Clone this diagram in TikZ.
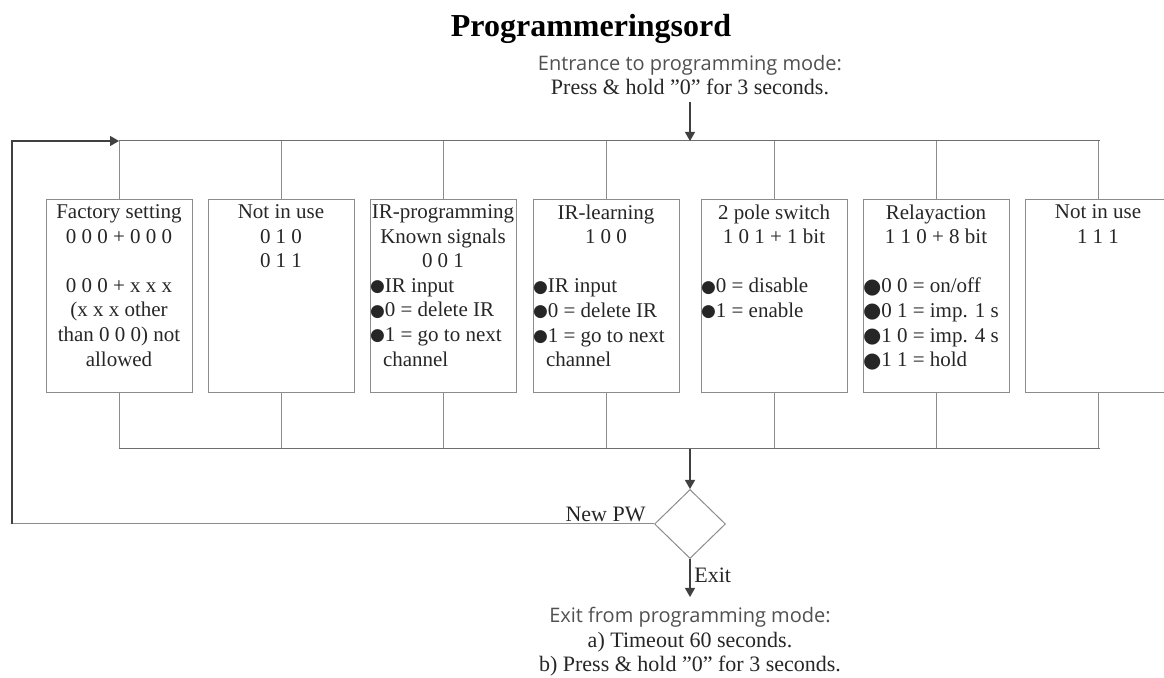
\documentclass[tikz,border=0pt]{standalone}
\usepackage{fontspec}
\setmainfont{Liberation Serif}
\newfontfamily\sansf{Open Sans}
\newfontfamily\bulf{DejaVu Sans}
\usetikzlibrary{arrows.meta,shapes.geometric}
\definecolor{linegray}{HTML}{8C8C8C}
\definecolor{busgray}{HTML}{6E6E6E}
\definecolor{arrowgray}{HTML}{404040}
\definecolor{txtgray}{HTML}{262626}
\definecolor{sansgray}{HTML}{505050}
\newcommand{\bul}{\raisebox{0.4pt}{\bulf\fontsize{8.5}{8.5}\selectfont ●}}
\newcommand{\bigbul}{\raisebox{-0.2pt}{\bulf\fontsize{10.5}{10.5}\selectfont ●}}
\newcommand{\boxtext}[1]{\parbox[c][96.5pt][t]{73pt}{\fontsize{10.5}{12.3}\selectfont\raggedright\vspace*{2.5pt}#1}}
\tikzset{%
    prgbox/.style={draw=linegray, line width=0.5pt, inner sep=0pt, anchor=north, text=txtgray},
    busline/.style={draw=busgray, line width=0.5pt},
    dropline/.style={draw=linegray, line width=0.5pt},
    flowarrow/.style={draw=arrowgray, line width=0.6pt, -{Triangle[length=4.5pt,width=5pt]}},
    decision/.style={diamond, draw=linegray, line width=0.5pt, minimum width=35.5pt, minimum height=34.5pt, inner sep=0pt},
    plaintext/.style={font=\fontsize{11}{12.3}\selectfont, text=txtgray, align=center}
}
\begin{document}
\begin{tikzpicture}[x=0.5pt,y=-0.5pt]
    \useasboundingbox (0,0) rectangle (1164,678);
    \clip (0,0) rectangle (1164,678);
	\node[font=\bfseries\fontsize{16}{16}\selectfont] (title) at (591,29) {Programmeringsord};
	\node[plaintext] (entr) at (690,75) {{\sansf\fontsize{10}{12.3}\selectfont\color{sansgray}Entrance to programming mode:}\\Press \& hold ”0” for 3 seconds.};
    \coordinate (tl) at (12,141);
    \coordinate (entry) at (690,141);
    \coordinate (bl) at (119,449);
    \coordinate (merge) at (690,449);
    \coordinate (ret) at (12,524);
    \coordinate (exitend) at (690,597);
	\node[prgbox] (fact) at (119,199) {\boxtext{{\centering Factory setting\\0 0 0 + 0 0 0\\[12.3pt]0 0 0 + x x x\\(x x x other\\than 0 0 0) not\\allowed\par}}};
	\node[prgbox] (nuse) at (281,199) {\boxtext{{\centering Not in use\\0 1 0\\0 1 1\par}}};
	\node[prgbox] (irprog) at (443,199) {\boxtext{{\centering IR-programming\\Known signals\\0 0 1\par}\bul IR input\\\bul 0 = delete IR\\\bul 1 = go to next\\\hspace*{6.5pt}channel}};
	\node[prgbox] (irlearn) at (606,199) {\boxtext{{\centering IR-learning\\1 0 0\par}\vspace{12.3pt}\bul IR input\\\bul 0 = delete IR\\\bul 1 = go to next\\\hspace*{6.5pt}channel}};
	\node[prgbox] (pole) at (774,199) {\boxtext{{\centering 2 pole switch\\1 0 1 + 1 bit\par}\vspace{12.3pt}\bul 0 = disable\\\bul 1 = enable}};
	\node[prgbox] (relay) at (936,199) {\boxtext{{\centering Relayaction\\1 1 0 + 8 bit\par}\vspace{12.3pt}\bigbul 0 0 = on/off\\\bigbul 0 1 = imp. 1 s\\\bigbul 1 0 = imp. 4 s\\\bigbul 1 1 = hold}};
	\node[prgbox] (nuse2) at (1098,199) {\boxtext{{\centering Not in use\\1 1 1\par}}};
    \node[decision] (dec) at (690,524) {};
    \foreach \b in {fact,nuse,irprog,irlearn,pole,relay,nuse2}{
        \draw[dropline] (\b.north) -- (\b.north |- tl);
        \draw[dropline] (\b.south) -- (\b.south |- bl);
    }
    \draw[busline] (fact.north |- tl) -- ([xshift=1pt]nuse2.north |- tl);
    \draw[busline] (bl) -- ([xshift=1pt]nuse2.south |- bl);
    \draw[flowarrow] (entr) -- (entry);
    \draw[flowarrow] (merge) -- (dec.north);
    \draw[flowarrow] (dec.south) -- (exitend);
    \draw[dropline] (dec.west) -- (ret);
    \draw[flowarrow] (ret) -- (tl) -- (fact.north |- tl);
	\node[plaintext, anchor=south east, inner xsep=4pt, inner ysep=1pt] (newpw) at (dec.west) {New PW};
	\node[plaintext, anchor=west, inner xsep=2pt] (exitlbl) at (690,575) {Exit};
	\node[plaintext] (exitt) at (690,642) {{\sansf\fontsize{10}{12.3}\selectfont\color{sansgray}Exit from programming mode:}\\a) Timeout 60 seconds.\\b) Press \& hold ”0” for 3 seconds.};
\end{tikzpicture}
\end{document}
